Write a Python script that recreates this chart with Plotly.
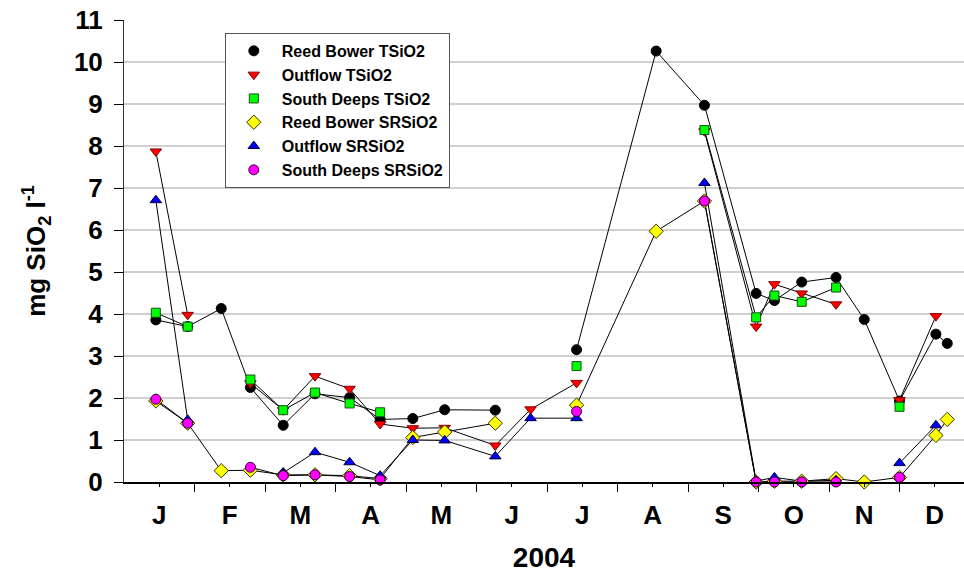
import calendar
import plotly.graph_objects as go

# Sampling dates for 2004 (shared by all series; None = not sampled)
sample_dates = [
    "2004-01-15", "2004-01-29", "2004-02-12", "2004-02-24", "2004-03-09",
    "2004-03-23", "2004-04-07", "2004-04-20", "2004-05-04", "2004-05-18",
    "2004-06-09", "2004-06-24", "2004-07-14", "2004-08-18", "2004-09-08",
    "2004-09-30", "2004-10-08", "2004-10-20", "2004-11-04", "2004-11-16",
    "2004-12-01", "2004-12-17", "2004-12-22",
]

reed_bower_tsio2 = [3.86, 3.70, 4.13, 2.25, 1.35, 2.10, 2.01, 1.49, 1.51, 1.72, 1.71, None,
                    3.15, 10.26, 8.97, 4.49, 4.32, 4.76, 4.87, 3.87, 1.93, 3.52, 3.30]
outflow_tsio2 = [7.87, 3.98, None, 2.35, 1.71, 2.52, 2.22, 1.38, 1.28, 1.29, 0.87, 1.73,
                 2.36, None, 8.35, 3.70, 4.71, 4.49, 4.23, None, 1.95, 3.95, None]
south_deeps_tsio2 = [4.03, 3.70, None, 2.44, 1.71, 2.13, 1.87, 1.66, None, None, None, None,
                     2.76, None, 8.38, 3.92, 4.44, 4.29, 4.63, None, 1.79, None, None]
reed_bower_srsio2 = [1.93, 1.40, 0.27, 0.28, 0.17, 0.17, 0.15, 0.08, 1.06, 1.19, 1.40, None,
                     1.83, 5.97, 6.69, 0.00, 0.02, 0.02, 0.08, 0.00, 0.11, 1.11, 1.49]
outflow_srsio2 = [6.71, 1.48, None, None, 0.22, 0.71, 0.47, 0.15, 1.00, 0.99, 0.61, 1.52,
                  1.52, None, 7.12, 0.02, 0.11, 0.02, 0.04, None, 0.45, 1.35, None]
south_deeps_srsio2 = [1.97, 1.40, None, 0.35, 0.15, 0.17, 0.13, 0.05, None, None, None, None,
                      1.68, None, 6.69, 0.00, 0.00, 0.00, 0.00, None, 0.11, None, None]

month_labels = ["J", "F", "M", "A", "M", "J", "J", "A", "S", "O", "N", "D"]
y_ticks = list(range(0, 12))


def month_pos(d):
    """Position of a date on a month-unit axis (0 = 1 Jan, 1 = 1 Feb, ...)."""
    y, m, dd = map(int, d.split("-"))
    return (m - 1) + (dd - 1) / calendar.monthrange(y, m)[1]


x = [month_pos(d) for d in sample_dates]

series = [
    ("Reed Bower TSiO2", reed_bower_tsio2, "circle", "#000000", "#000000", 10),
    ("Outflow TSiO2", outflow_tsio2, "triangle-down", "#ff0000", "#800000", 10),
    ("South Deeps TSiO2", south_deeps_tsio2, "square", "#00ff00", "#1a4d1a", 9),
    ("Reed Bower SRSiO2", reed_bower_srsio2, "diamond", "#ffff00", "#333300", 11),
    ("Outflow SRSiO2", outflow_srsio2, "triangle-up", "#0000ff", "#000033", 10),
    ("South Deeps SRSiO2", south_deeps_srsio2, "circle", "#ff00ff", "#330033", 10),
]

FONT = "Liberation Sans, Arial, sans-serif"

fig = go.Figure()

# connecting lines first (gaps where a site was not sampled)
for name, vals, sym, fill, edge, size in series:
    fig.add_trace(go.Scatter(
        x=x, y=vals, mode="lines", connectgaps=False,
        line=dict(color="#000000", width=1),
        showlegend=False, hoverinfo="skip",
    ))

# markers on top
for name, vals, sym, fill, edge, size in series:
    fig.add_trace(go.Scatter(
        x=x, y=vals, mode="markers", name=name, cliponaxis=False,
        marker=dict(symbol=sym, size=size, color=fill,
                    line=dict(color=edge, width=1)),
    ))

fig.update_layout(
    width=964, height=579,
    margin=dict(l=124, r=0, t=20, b=97),
    paper_bgcolor="white", plot_bgcolor="white",
    font=dict(family=FONT, color="black"),
    legend=dict(
        x=0.12, y=0.972, xanchor="left", yanchor="top",
        bgcolor="white", bordercolor="#555555", borderwidth=1,
        font=dict(family=FONT, size=16, weight="bold"),
        itemwidth=46, tracegroupgap=0,
    ),
    xaxis=dict(
        range=[0, 840 / 70.5],
        tickmode="array", tickvals=[i + 0.5 for i in range(12)], ticktext=month_labels,
        ticks="outside", ticklen=3, tickcolor="black",
        minor=dict(tickmode="array", tickvals=list(range(1, 12)), ticks="outside",
                   ticklen=8, tickcolor="black", showgrid=False),
        showline=True, linecolor="black", linewidth=2,
        showgrid=False, zeroline=False,
        tickfont=dict(size=26, weight="bold"),
        ticklabelstandoff=6,
        title=dict(text="2004", font=dict(size=28, weight="bold"), standoff=18),
    ),
    yaxis=dict(
        range=[0, 11],
        tickmode="array", tickvals=y_ticks,
        ticks="outside", ticklen=9, tickcolor="black",
        showline=True, linecolor="#333333", linewidth=1,
        showgrid=True, gridcolor="#cfcfcf", gridwidth=1.5,
        zeroline=False,
        tickfont=dict(size=26, weight="bold"),
        ticklabelstandoff=6,
        title=dict(text="mg SiO<sub>2</sub> l<sup>-1</sup>",
                   font=dict(size=26, weight="bold"), standoff=20),
    ),
)

fig.write_html("out.html")
